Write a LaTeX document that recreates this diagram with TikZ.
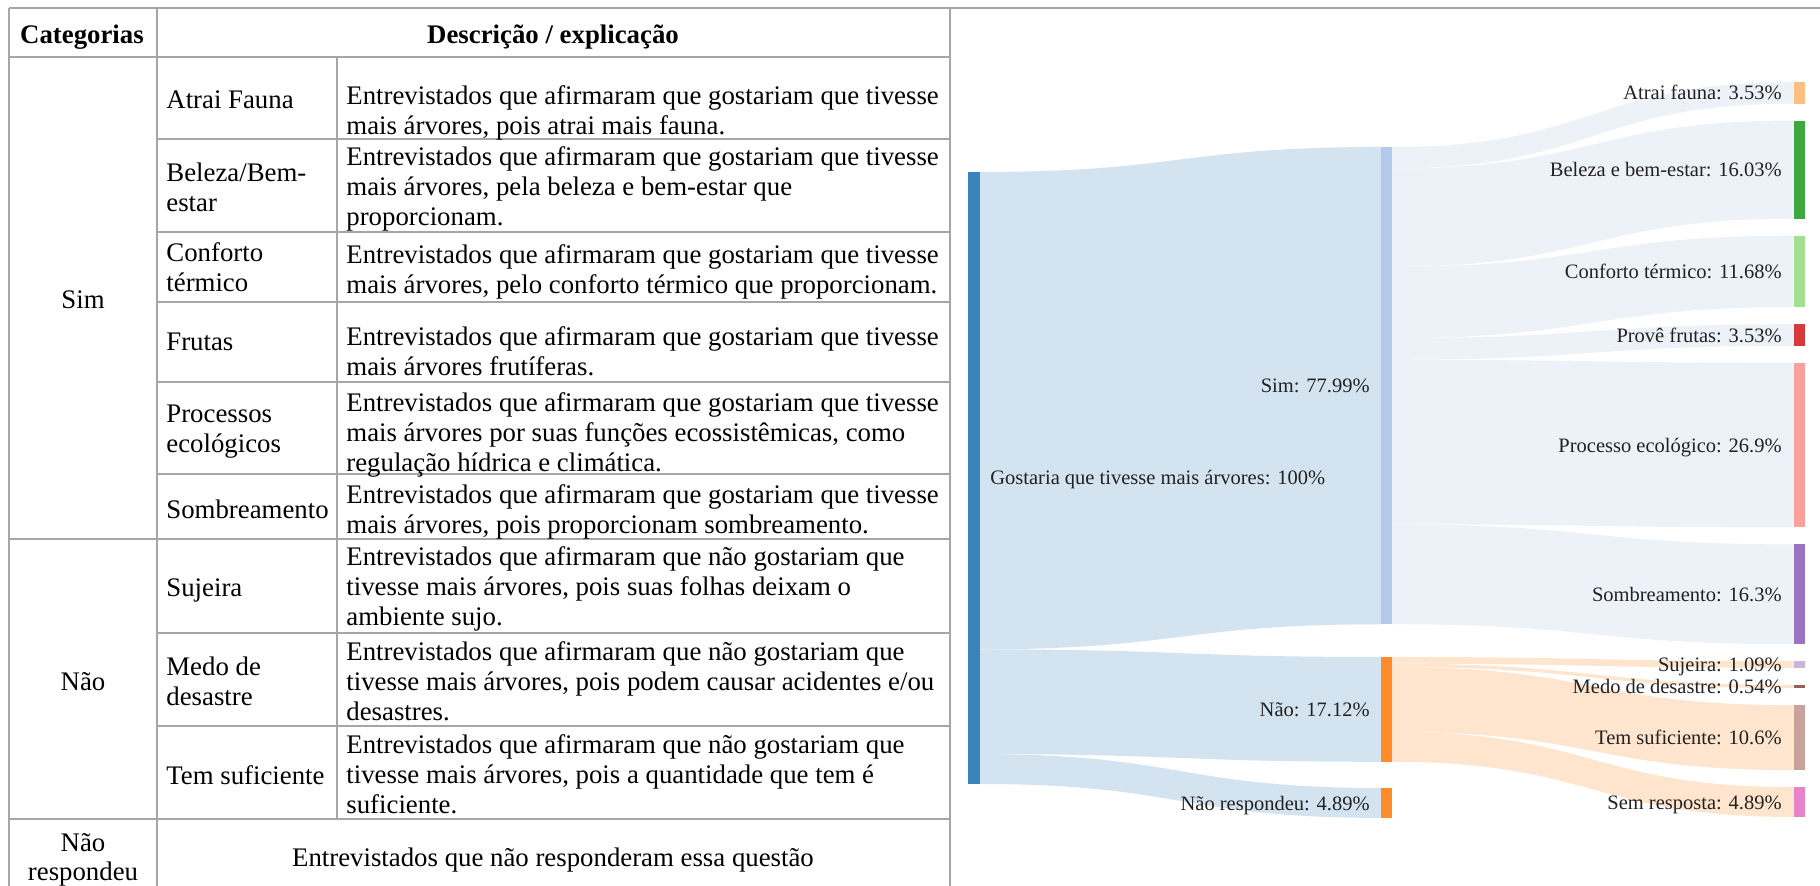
\documentclass[tikz,border=0pt]{standalone}
\usepackage{fontspec}
\setmainfont{Liberation Serif}
\usepackage{xcolor}
\usetikzlibrary{calc}

\definecolor{tabgray}{HTML}{A6A6A6}
\definecolor{rootbar}{HTML}{3A84BE}
\definecolor{rootlink}{HTML}{D3E4F0}
\definecolor{simbar}{HTML}{B4C9E9}
\definecolor{simlink}{HTML}{EDF2F8}
\definecolor{naobar}{HTML}{FE8C28}
\definecolor{naolink}{HTML}{FFE4CE}
\definecolor{cAtrai}{HTML}{FDBF80}
\definecolor{cBeleza}{HTML}{3EA83E}
\definecolor{cConforto}{HTML}{A2E08F}
\definecolor{cFrutas}{HTML}{D83A3B}
\definecolor{cProcesso}{HTML}{FCA09E}
\definecolor{cSombra}{HTML}{9C72C3}
\definecolor{cSujeira}{HTML}{C9B5D9}
\definecolor{cMedo}{HTML}{946159}
\definecolor{cTem}{HTML}{C9A39B}
\definecolor{cSemresp}{HTML}{E683C9}
\definecolor{labtext}{HTML}{222222}

\newcommand{\tabfont}{\fontsize{13.4}{14.9}\selectfont}
\newcommand{\skfont}{\fontsize{10.25}{12}\selectfont}
% band between two columns: x0, top0, bot0, x1, top1, bot1, colour
\newcommand{\flow}[7]{\fill[#7] (#1,#2) .. controls ({(#1+#4)/2},#2) and ({(#1+#4)/2},#5) .. (#4,#5) -- (#4,#6) .. controls ({(#1+#4)/2},#6) and ({(#1+#4)/2},#3) .. (#1,#3) -- cycle;}

\tikzset{
  rule/.style={draw=tabgray, line width=1pt},
  cel/.style={anchor=base west, inner sep=0pt, align=left, font=\tabfont},
  mid/.style={anchor=base, inner sep=0pt, align=center, font=\tabfont},
  lab/.style={anchor=base east, inner sep=0pt, font=\skfont, text=labtext},
}

\begin{document}
\begin{tikzpicture}[x=0.5pt,y=-0.5pt]
\useasboundingbox (0,0) rectangle (1820,886);

% table grid
\draw[rule] (9,8.5) -- (1820,8.5);
\draw[rule] (9,8.5) -- (9,886);
\draw[rule] (157,8.5) -- (157,886);
\draw[rule] (950,8.5) -- (950,886);
\draw[rule] (337,57) -- (337,819);
\foreach \y in {57,539,819} \draw[rule] (9,\y) -- (950,\y);
\foreach \y in {139,232,302,382,474,633,726} \draw[rule] (157,\y) -- (950,\y);

% header
\node[mid,font=\tabfont\bfseries] (hcat) at (82,44) {Categorias};
\node[mid,font=\tabfont\bfseries] (hdesc) at (553,44) {Descrição / explicação};

% first column (base = last line)
\node[mid] (csim) at (83,309) {Sim};
\node[mid] (cnao) at (83,691) {Não};
\node[mid] (cnr) at (83,880.8) {Não\\respondeu};
\node[mid] (dnr) at (553,866) {Entrevistados que não responderam essa questão};

% second column
\node[cel] (k1) at (166,109) {Atrai Fauna};
\node[cel] (k2) at (166,211.8) {Beleza/Bem-\\estar};
\node[cel] (k3) at (166,291.8) {Conforto\\térmico};
\node[cel] (k4) at (166,351) {Frutas};
\node[cel] (k5) at (166,452.8) {Processos\\ecológicos};
\node[cel] (k6) at (166,519) {Sombreamento};
\node[cel] (k7) at (166,597) {Sujeira};
\node[cel] (k8) at (166,705.8) {Medo de\\desastre};
\node[cel] (k9) at (166,784) {Tem suficiente};

% third column
\node[cel] (d1) at (346,134.8) {Entrevistados que afirmaram que gostariam que tivesse\\mais árvores, pois atrai mais fauna.};
\node[cel] (d2) at (346,225.6) {Entrevistados que afirmaram que gostariam que tivesse\\mais árvores, pela beleza e bem-estar que\\proporcionam.};
\node[cel] (d3) at (346,293.8) {Entrevistados que afirmaram que gostariam que tivesse\\mais árvores, pelo conforto térmico que proporcionam.};
\node[cel] (d4) at (346,375.8) {Entrevistados que afirmaram que gostariam que tivesse\\mais árvores frutíferas.};
\node[cel] (d5) at (346,471.6) {Entrevistados que afirmaram que gostariam que tivesse\\mais árvores por suas funções ecossistêmicas, como\\regulação hídrica e climática.};
\node[cel] (d6) at (346,533.8) {Entrevistados que afirmaram que gostariam que tivesse\\mais árvores, pois proporcionam sombreamento.};
\node[cel] (d7) at (346,625.6) {Entrevistados que afirmaram que não gostariam que\\tivesse mais árvores, pois suas folhas deixam o\\ambiente sujo.};
\node[cel] (d8) at (346,720.6) {Entrevistados que afirmaram que não gostariam que\\tivesse mais árvores, pois podem causar acidentes e/ou\\desastres.};
\node[cel] (d9) at (346,813.6) {Entrevistados que afirmaram que não gostariam que\\tivesse mais árvores, pois a quantidade que tem é\\suficiente.};

% sankey bands
\flow{980}{172}{649.3}{1381}{147}{624.3}{rootlink}
\flow{980}{649.3}{754.1}{1381}{657}{761.8}{rootlink}
\flow{980}{754.1}{784}{1381}{788}{817.9}{rootlink}
\flow{1392}{147}{168.6}{1793.5}{82}{103.6}{simlink}
\flow{1392}{168.6}{266.7}{1793.5}{120.6}{218.7}{simlink}
\flow{1392}{266.7}{338.2}{1793.5}{235.7}{307.2}{simlink}
\flow{1392}{338.2}{359.8}{1793.5}{324.2}{345.8}{simlink}
\flow{1392}{359.8}{524.4}{1793.5}{362.8}{527.4}{simlink}
\flow{1392}{524.4}{624.2}{1793.5}{544.4}{644.2}{simlink}
\flow{1392}{657}{663.7}{1793.5}{661.2}{667.9}{naolink}
\flow{1392}{663.7}{667}{1793.5}{684.9}{688.2}{naolink}
\flow{1392}{667}{731.9}{1793.5}{705.2}{770.1}{naolink}
\flow{1392}{731.9}{761.8}{1793.5}{787.1}{817}{naolink}

% sankey bars
\fill[rootbar] (968,172) rectangle (980,784);
\fill[simbar] (1381,147) rectangle (1392,624.3);
\fill[naobar] (1381,657) rectangle (1392,761.8);
\fill[naobar] (1381,788) rectangle (1392,817.9);
\foreach \a/\b/\c in {82/103.6/cAtrai, 120.6/218.7/cBeleza, 235.7/307.2/cConforto,
  324.2/345.8/cFrutas, 362.8/527.4/cProcesso, 544.4/644.2/cSombra, 661.2/667.9/cSujeira,
  684.9/688.2/cMedo, 705.2/770.1/cTem, 787.1/817/cSemresp}
  \fill[\c] (1793.5,\a) rectangle (1805,\b);

% sankey labels
\node[lab,anchor=base west] (lroot) at (990,485) {Gostaria que tivesse mais árvores: 100\%};
\node[lab] (lsim) at (1370,393) {Sim: 77.99\%};
\node[lab] (lnao) at (1370,717) {Não: 17.12\%};
\node[lab] (lnr) at (1370,810) {Não respondeu: 4.89\%};
\node[lab] (latrai) at (1782,100) {Atrai fauna: 3.53\%};
\node[lab] (lbeleza) at (1782,177) {Beleza e bem-estar: 16.03\%};
\node[lab] (lconforto) at (1782,278.7) {Conforto térmico: 11.68\%};
\node[lab] (lfrutas) at (1782,342.2) {Provê frutas: 3.53\%};
\node[lab] (lprocesso) at (1782,452.3) {Processo ecológico: 26.9\%};
\node[lab] (lsombra) at (1782,601.5) {Sombreamento: 16.3\%};
\node[lab] (lsujeira) at (1782,671.8) {Sujeira: 1.09\%};
\node[lab] (lmedo) at (1782,693.8) {Medo de desastre: 0.54\%};
\node[lab] (ltem) at (1782,744.9) {Tem suficiente: 10.6\%};
\node[lab] (lsemresp) at (1782,809.3) {Sem resposta: 4.89\%};
\end{tikzpicture}
\end{document}
